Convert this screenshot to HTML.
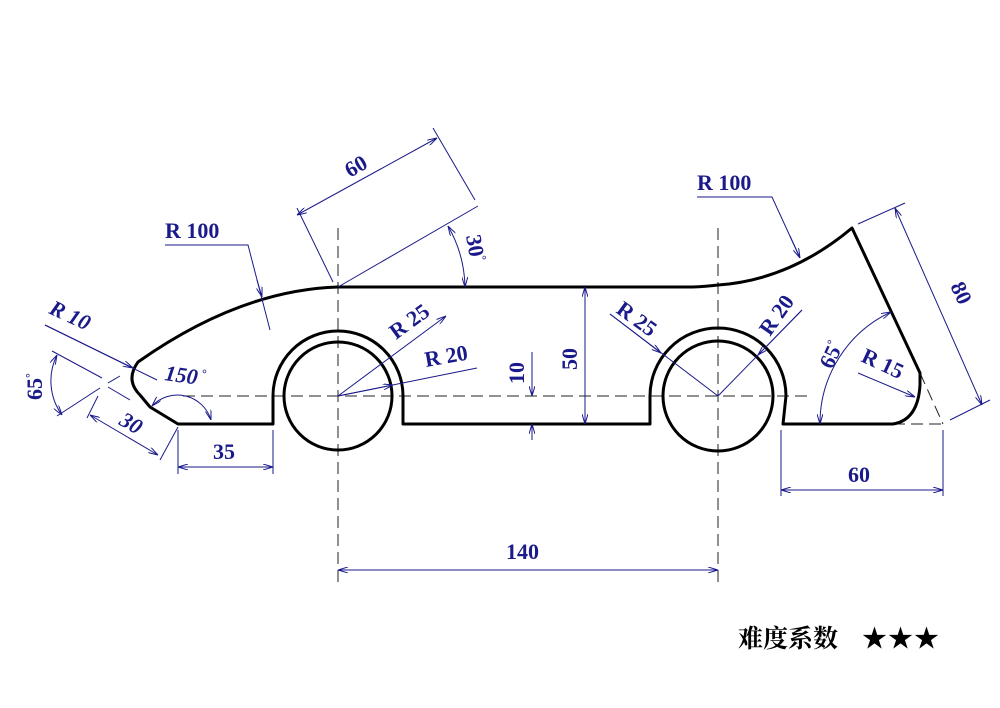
<!DOCTYPE html>
<html><head><meta charset="utf-8"><style>
html,body{margin:0;padding:0;background:#fff;}
svg{display:block;}
text{font-family:"Liberation Serif","DejaVu Serif",serif;font-weight:bold;fill:#1a1a8a;font-size:22px;}
.cn{font-family:"Liberation Serif","Noto Serif CJK SC",serif;fill:#000;font-size:25px;font-weight:bold;}
</style></head><body>
<svg width="1000" height="708" viewBox="0 0 1000 708" xmlns="http://www.w3.org/2000/svg">
<defs>
<marker id="a" viewBox="0 0 10 6" refX="10" refY="3" markerWidth="10" markerHeight="6" orient="auto-start-reverse" markerUnits="userSpaceOnUse">
<path d="M0,0 L10,3 L0,6" fill="none" stroke="#1a1a8a" stroke-width="1"/></marker>
</defs>
<rect width="1000" height="708" fill="#fff"/>
<g stroke="#222" stroke-width="1" stroke-dasharray="12,6" fill="none">
<line x1="338" y1="228" x2="338" y2="582"/>
<line x1="718" y1="228" x2="718" y2="582"/>
<line x1="183" y1="396" x2="813" y2="396"/>
<line x1="893" y1="424" x2="943" y2="424"/>
<line x1="920" y1="373" x2="943" y2="424"/>
</g>
<g stroke="#000" stroke-width="3" fill="none" stroke-linejoin="round">
<path d="M178,424 L273,424 L273,396 A65,65 0 0 1 403,396 L403,424 L650,424 L650,396 A68,68 0 0 1 786,396 L783,424 L893,424 Q918,420 920,385 L920,373 L852,228 Q790,280 718,285 Q700,287 690,287 L338,287 Q240,290 138,362 Q125,380 140,395 L150,407 Z"/>
<circle cx="338" cy="396" r="54"/>
<circle cx="718" cy="396" r="55"/>
</g>
<g stroke="#1a1a8a" stroke-width="1" fill="none">
<line x1="338" y1="287" x2="478" y2="206"/>
<line x1="297" y1="208" x2="333" y2="282"/>
<line x1="433" y1="128" x2="475" y2="200"/>
<line x1="297" y1="215" x2="437" y2="138" marker-start="url(#a)" marker-end="url(#a)"/>
<path d="M448,226 A127,127 0 0 1 465,287" marker-start="url(#a)" marker-end="url(#a)"/>
<line x1="338" y1="396" x2="446" y2="316" marker-end="url(#a)"/>
<line x1="338" y1="396" x2="477" y2="368"/>
<line x1="338" y1="396" x2="393" y2="385" marker-end="url(#a)"/>
<line x1="532" y1="352" x2="532" y2="396" marker-end="url(#a)"/>
<line x1="532" y1="440" x2="532" y2="424" marker-end="url(#a)"/>
<line x1="585" y1="287" x2="585" y2="424" marker-start="url(#a)" marker-end="url(#a)"/>
<line x1="338" y1="570" x2="718" y2="570" marker-start="url(#a)" marker-end="url(#a)"/>
<line x1="178" y1="430" x2="178" y2="474"/>
<line x1="273" y1="430" x2="273" y2="474"/>
<line x1="178" y1="467" x2="273" y2="467" marker-start="url(#a)" marker-end="url(#a)"/>
<line x1="781" y1="430" x2="781" y2="496"/>
<line x1="943" y1="430" x2="943" y2="496"/>
<line x1="781" y1="490" x2="943" y2="490" marker-start="url(#a)" marker-end="url(#a)"/>
<line x1="858" y1="224" x2="905" y2="203"/>
<line x1="950" y1="420" x2="990" y2="400"/>
<line x1="895" y1="208" x2="982" y2="405" marker-start="url(#a)" marker-end="url(#a)"/>
<path d="M820,424 A123,123 0 0 1 891,312" marker-start="url(#a)" marker-end="url(#a)"/>
<line x1="858" y1="373" x2="915" y2="397" marker-end="url(#a)"/>
<polyline points="697,197 772,197 800,258" />
<line x1="790" y1="236" x2="800" y2="258" marker-end="url(#a)"/>
<line x1="610" y1="314" x2="718" y2="396"/>
<line x1="610" y1="314" x2="661" y2="353" marker-end="url(#a)"/>
<line x1="718" y1="396" x2="802" y2="310"/>
<line x1="802" y1="310" x2="758" y2="355" marker-end="url(#a)"/>
<polyline points="165,245 248,245 270,330"/>
<line x1="257" y1="280" x2="262" y2="297" marker-end="url(#a)"/>
<line x1="45" y1="325" x2="157" y2="380"/>
<line x1="45" y1="325" x2="133" y2="368" marker-end="url(#a)"/>
<line x1="52" y1="351" x2="102" y2="378"/>
<line x1="108" y1="383" x2="120" y2="376"/>
<line x1="57" y1="416" x2="100" y2="388"/>
<line x1="108" y1="387" x2="130" y2="400"/>
<path d="M57,355 A58,58 0 0 0 62,415" marker-start="url(#a)" marker-end="url(#a)"/>
<line x1="90" y1="415" x2="158" y2="455" marker-start="url(#a)" marker-end="url(#a)"/>
<line x1="178" y1="427" x2="160" y2="460"/>
<line x1="98" y1="396" x2="87" y2="418"/>
<path d="M152,406 A35,35 0 0 1 211,420" marker-start="url(#a)" marker-end="url(#a)"/>
</g>
<text x="0" y="0" transform="translate(350,178) rotate(-30)">60</text>
<text x="0" y="0" transform="translate(466,236) rotate(80)">30<tspan font-size="12" dy="-8">°</tspan></text>
<text x="0" y="0" transform="translate(396,340) rotate(-36)">R 25</text>
<text x="426" y="367" transform="rotate(-10 426 367)">R 20</text>
<text x="0" y="0" transform="translate(524,384) rotate(-90)">10</text>
<text x="0" y="0" transform="translate(577,370) rotate(-90)">50</text>
<text x="506" y="559">140</text>
<text x="213" y="459">35</text>
<text x="848" y="482">60</text>
<text x="0" y="0" transform="translate(950,286) rotate(65)">80</text>
<text x="0" y="0" transform="translate(832,370) rotate(-65)">65<tspan font-size="12" dy="-8">°</tspan></text>
<text x="0" y="0" transform="translate(860,361) rotate(25)">R 15</text>
<text x="697" y="190">R 100</text>
<text x="0" y="0" transform="translate(615,312) rotate(36)">R 25</text>
<text x="0" y="0" transform="translate(770,337) rotate(-55)">R 20</text>
<text x="165" y="238">R 100</text>
<text x="0" y="0" transform="translate(48,313) rotate(25)" font-style="italic">R 10</text>
<text x="0" y="0" transform="translate(42,400) rotate(-90)">65<tspan font-size="12" dy="-8">°</tspan></text>
<text x="0" y="0" transform="translate(118,424) rotate(30)" font-style="italic">30</text>
<text x="0" y="0" transform="translate(164,380) rotate(8)" font-style="italic">150<tspan font-size="12" dy="-8"> °</tspan></text>
<text class="cn" x="738" y="647">难度系数</text>
<text class="cn" x="862" y="647" letter-spacing="1">★★★</text>
</svg>
</body></html>
